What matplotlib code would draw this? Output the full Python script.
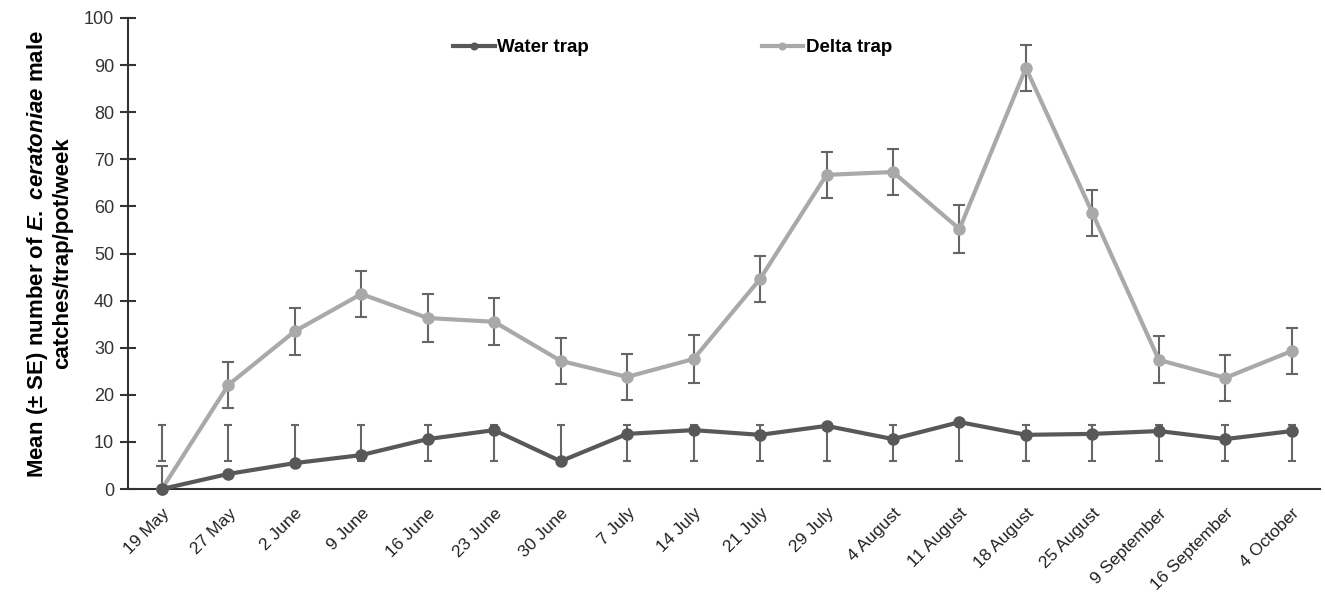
import matplotlib
matplotlib.use("Agg")
import matplotlib.pyplot as plt
import numpy as np

categories = ["19 May", "27 May", "2 June", "9 June", "16 June", "23 June", "30 June",
              "7 July", "14 July", "21 July", "29 July", "4 August", "11 August",
              "18 August", "25 August", "9 September", "16 September", "4 October"]

water = [0, 3.2, 5.5, 7.2, 10.6, 12.5, 5.9, 11.7, 12.5, 11.5, 13.4, 10.6, 14.2,
         11.5, 11.7, 12.3, 10.6, 12.3]
delta = [0, 22.1, 33.5, 41.4, 36.3, 35.5, 27.2, 23.8, 27.6, 44.6, 66.7, 67.3, 55.2,
         89.4, 58.6, 27.4, 23.6, 29.3]

# Error bar extents as drawn in the reference (lower / upper bar ends)
water_bar_lo = [5.9] * 18
water_bar_hi = [13.6] * 18
delta_se = [4.8, 4.9, 5.0, 4.9, 5.0, 5.0, 4.9, 4.9, 5.0, 4.9, 4.9, 4.9, 5.0,
            4.9, 4.9, 5.0, 4.9, 4.9]

plt.rcParams['font.family'] = ['Liberation Sans', 'DejaVu Sans']
plt.rcParams['mathtext.fontset'] = 'custom'
plt.rcParams['mathtext.it'] = 'Liberation Sans:italic:bold'
plt.rcParams['mathtext.rm'] = 'Liberation Sans:bold'

fig = plt.figure(figsize=(13.25, 6), dpi=100)
ax = fig.add_axes([0.0966, 0.185, 0.8994, 0.785])

x = np.arange(len(categories))
water_c = "#585858"
delta_c = "#a9a9a9"
err_c = "#666666"

w = np.array(water)
d = np.array(delta)
lo = np.array(water_bar_lo)
hi = np.array(water_bar_hi)

ax.vlines(x, lo, hi, color=err_c, lw=1.5, zorder=2)
ax.hlines(lo, x - 0.06, x + 0.06, color=err_c, lw=1.5, zorder=2)
ax.hlines(hi, x - 0.06, x + 0.06, color=err_c, lw=1.5, zorder=2)

ax.errorbar(x, d, yerr=delta_se, fmt='none', ecolor=err_c, elinewidth=1.5,
            capsize=4, capthick=1.5, zorder=2, clip_on=True)

ax.plot(x, w, color=water_c, lw=3, marker='o', ms=8, zorder=4, label="Water trap",
        clip_on=False)
ax.plot(x, d, color=delta_c, lw=3, marker='o', ms=8, zorder=3, label="Delta trap",
        clip_on=False)

ax.set_xlim(-0.51, 17.42)
ax.set_ylim(0, 100)
ax.set_yticks(np.arange(0, 101, 10))
ax.tick_params(axis='y', direction='inout', length=12, width=1.5, color="#333333",
               labelsize=13, labelcolor="#333333", pad=4)
ax.set_xticks(x)
ax.set_xticklabels(categories, rotation=45, ha='right', rotation_mode='anchor',
                   fontsize=12.5, color="#222222")
ax.tick_params(axis='x', length=0, pad=12)

for s in ['top', 'right']:
    ax.spines[s].set_visible(False)
for s in ['left', 'bottom']:
    ax.spines[s].set_color("#333333")
    ax.spines[s].set_linewidth(1.5)

ax.set_ylabel("Mean (± SE) number of $E.\\ ceratoniae$ male\ncatches/trap/pot/week",
              fontsize=16, fontweight='bold', labelpad=8, linespacing=1.1)

leg = ax.legend(loc='center', bbox_to_anchor=(0.457, 0.937), ncol=2, frameon=False,
                columnspacing=9.2, handlelength=2.2, handletextpad=0.15,
                prop={'weight': 'bold', 'size': 13.5}, markerscale=0.6)

fig.savefig("out.png", dpi=100)
